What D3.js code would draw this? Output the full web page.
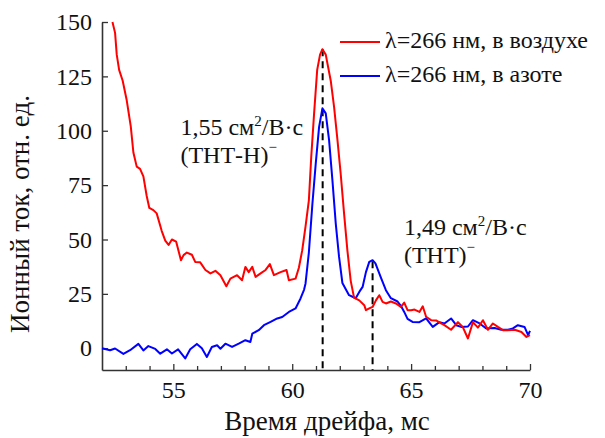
<!DOCTYPE html>
<html>
<head>
<meta charset="utf-8">
<script src="https://cdn.jsdelivr.net/npm/d3@7"></script>
<style>
  html, body { margin: 0; padding: 0; background: #fff; }
  svg { display: block; }
  svg text { fill: #111; }
</style>
</head>
<body>
<svg id="chart" width="605" height="438"></svg>
<script>
// ---- data ----
const redTime = [52.44,52.55,52.62,52.72,52.87,53.04,53.21,53.32,53.46,53.6,53.74,53.88,53.99,54.16,54.3,54.51,54.66,54.8,54.94,55.12,55.32,55.43,55.57,55.78,55.92,56.13,56.35,56.56,56.77,56.98,57.23,57.4,57.68,57.89,58.03,58.17,58.32,58.46,58.67,58.88,59.06,59.23,59.51,59.76,59.86,60.14,60.28,60.42,60.56,60.7,60.8,60.92,61.05,61.17,61.27,61.41,61.62,61.76,61.9,62.04,62.18,62.32,62.46,62.6,62.82,63.03,63.1,63.24,63.38,63.52,63.66,63.8,63.94,64.15,64.36,64.57,64.71,64.85,65.0,65.14,65.35,65.49,65.63,65.84,66.05,66.26,66.4,66.68,66.97,67.17,67.39,67.6,67.81,68.02,68.23,68.44,68.65,68.86,69.07,69.36,69.64,69.85,70.0];
const redValues = [150,145,135,128,123,114,102,90,83.5,82.5,79,70,64.5,63.5,62,54,49.5,47.5,50,49,40.5,42.8,44,43,39.7,39.5,36,34.4,35.6,33.6,28.5,32,33.6,31.3,37.4,35,37.4,32.8,34.4,36,38.7,33.6,35,36,31.3,32,37,45,56,68,88,108,128,135,137.5,135,123,111,96,80,62,45,31,23.3,22,19.8,17.5,18.3,19,22,24.4,21.3,20.6,21.5,20.6,19,21,17.5,17.5,17.8,16.7,19.3,14.5,12.9,12.8,11.4,10.6,8.5,12,9.8,4.5,12,9.5,12.9,8.5,11.4,9.8,8.3,8.3,8.5,7.5,5.2,6];

const blueTime = [52.0,52.34,52.55,52.9,53.18,53.53,53.74,53.95,54.24,54.45,54.73,54.94,55.2,55.5,55.71,55.99,56.2,56.41,56.62,56.84,56.98,57.19,57.47,57.75,58.03,58.24,58.32,58.59,58.81,59.09,59.37,59.58,59.86,60.14,60.35,60.5,60.56,60.7,60.85,60.99,61.13,61.27,61.41,61.55,61.69,61.83,61.97,62.11,62.39,62.67,62.82,62.96,63.1,63.24,63.38,63.5,63.73,63.94,64.15,64.43,64.57,64.71,64.85,65.06,65.35,65.63,65.91,66.19,66.4,66.68,66.9,67.1,67.39,67.6,67.88,68.16,68.51,68.79,69.07,69.28,69.49,69.77,69.92,70.0];
const blueValues = [0,-0.9,-0.1,-2.6,-0.9,2,-1,1,-0.3,-2.5,-0.5,-2.4,-0.5,-4.7,-0.5,2,0,-4,0.6,1.4,-0.2,2.1,0.6,2.1,3.7,2.9,6.7,8.3,10.6,12.1,13.7,14.4,16.7,18.3,22.9,27,29.8,44,66.6,85,101.8,110.3,108,95.7,77.3,57.4,42,30,24.4,23,25.9,28.2,35,39.7,40.5,39,32.5,26.7,23,21.5,19.5,16.7,13.5,12.1,12,13.7,9.8,12,11.4,13.7,10.6,9.8,10,12.9,11.4,9.1,9.3,8.5,8.5,9.1,10.6,9.8,6,8];

const seriesNames = ["λ=266 нм, в воздухе", "λ=266 нм, в азоте"];
const seriesColors = ["#ff0000", "#0000ff"];

const xTicks = [55, 60, 65, 70];
const xMinorTicks = [53,54,56,57,58,59,61,62,63,64,66,67,68,69];
const yTicks = [0, 25, 50, 75, 100, 125, 150];

const peakTimes = [61.28, 63.38];
const peakTops = [137.5, 40];
const peakLabels = [["1,55 см", "2", "/В·с", "(ТНТ-Н)"], ["1,49 см", "2", "/В·с", "(ТНТ)"]];
const peakLabelAnchor = [[55.3, 98], [64.7, 52]]; // data coords of first label line baseline

const xTitle = "Время дрейфа, мс";
const yTitle = "Ионный ток, отн. ед.";

// ---- chart ----
const FONT = '"Liberation Serif", "DejaVu Serif", "Times New Roman", Times, serif';
const svg = d3.select("#chart");
const margin = {left: 102, right: 75, top: 22, bottom: 68};
const W = 605, H = 438;
const x = d3.scaleLinear().domain([52, 70]).range([margin.left, W - margin.right]);
const y = d3.scaleLinear().domain([-10, 150]).range([H - margin.bottom, margin.top]);

const FS = 24, TFS = 27;

// axes
svg.append("g").attr("transform", `translate(0,${y(-10)})`)
  .call(d3.axisBottom(x).tickValues(xTicks).tickFormat(d3.format("d")).tickSizeInner(-6).tickSizeOuter(0).tickPadding(11));
svg.append("g").attr("transform", `translate(0,${y(-10)})`)
  .call(d3.axisBottom(x).tickValues(xMinorTicks).tickFormat("").tickSizeInner(-4).tickSizeOuter(0))
  .select(".domain").remove();
svg.append("g").attr("transform", `translate(${x(52)},0)`)
  .call(d3.axisLeft(y).tickValues(yTicks).tickFormat(d3.format("d")).tickSizeInner(-6).tickSizeOuter(0).tickPadding(10));

svg.selectAll("g").attr("font-family", FONT);
svg.selectAll(".domain").attr("stroke", "#333").attr("stroke-width", 1.6);
svg.selectAll(".tick line").attr("stroke", "#333").attr("stroke-width", 1.3);
svg.selectAll(".tick text").attr("font-family", FONT).attr("font-size", FS).attr("fill", "#111");

// dashed peak lines
peakTimes.forEach((t, i) => {
  svg.append("line")
    .attr("x1", x(t)).attr("x2", x(t))
    .attr("y1", y(peakTops[i])).attr("y2", y(-10))
    .attr("stroke", "#000").attr("stroke-width", 2)
    .attr("stroke-dasharray", "7,5");
});

// lines
const line = d3.line().x(d => x(d[0])).y(d => y(d[1]));
const redData = redTime.map((t, i) => [t, redValues[i]]);
const blueData = blueTime.map((t, i) => [t, blueValues[i]]);
svg.append("path").datum(blueData).attr("d", line)
  .attr("fill", "none").attr("stroke", seriesColors[1]).attr("stroke-width", 2).attr("stroke-linejoin", "round");
svg.append("path").datum(redData).attr("d", line)
  .attr("fill", "none").attr("stroke", seriesColors[0]).attr("stroke-width", 2).attr("stroke-linejoin", "round");

// legend
seriesNames.forEach((name, i) => {
  const ly = 42 + i * 34;
  svg.append("line").attr("x1", 340).attr("x2", 380).attr("y1", ly).attr("y2", ly)
    .attr("stroke", seriesColors[i]).attr("stroke-width", 2);
  svg.append("text").attr("x", 385).attr("y", ly + 5.5).attr("font-family", FONT).attr("font-size", FS).text(name);
});

// peak labels
peakLabels.forEach((lab, i) => {
  const ax = x(peakLabelAnchor[i][0]), ay = y(peakLabelAnchor[i][1]);
  const t1 = svg.append("text").attr("x", ax).attr("y", ay).attr("font-family", FONT).attr("font-size", FS);
  t1.append("tspan").text(lab[0]);
  t1.append("tspan").attr("dy", -9).attr("font-size", 15).text(lab[1]);
  t1.append("tspan").attr("dy", 9).text(lab[2]);
  const t2 = svg.append("text").attr("x", ax).attr("y", ay + 28).attr("font-family", FONT).attr("font-size", FS);
  t2.append("tspan").text(lab[3]);
  t2.append("tspan").attr("dy", -11).attr("font-size", 15).text("−");
});

// axis titles
svg.append("text").attr("x", 327).attr("y", 430).attr("text-anchor", "middle")
  .attr("font-family", FONT).attr("font-size", TFS).text(xTitle);
svg.append("text").attr("transform", `translate(29,214) rotate(-90)`).attr("text-anchor", "middle")
  .attr("font-family", FONT).attr("font-size", TFS).text(yTitle);
</script>
</body>
</html>
